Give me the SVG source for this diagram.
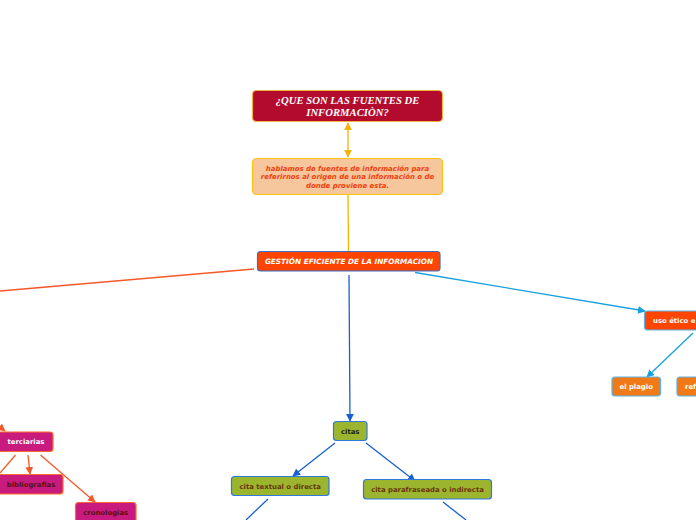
<svg xmlns="http://www.w3.org/2000/svg" width="696" height="520" viewBox="0 0 696 520">
<defs>
<style>
.t{font-family:"DejaVu Sans","Liberation Sans",sans-serif;font-weight:bold;font-size:6.9px;text-anchor:middle}
.big{font-size:7.3px}
.desc{font-size:6.95px}
.st{text-anchor:start}
.ln{fill:none;stroke-width:1.3}
</style>
<marker id="aGold" viewBox="0 0 10 10" refX="9" refY="5" markerWidth="6" markerHeight="6" orient="auto-start-reverse"><path d="M0,0L10,5L0,10z" fill="#f5b400"/></marker>
<marker id="aBlue" viewBox="0 0 10 10" refX="9" refY="5" markerWidth="6" markerHeight="6" orient="auto"><path d="M0,0L10,5L0,10z" fill="#1a5fd0"/></marker>
<marker id="aLBlue" viewBox="0 0 10 10" refX="9" refY="5" markerWidth="6" markerHeight="6" orient="auto"><path d="M0,0L10,5L0,10z" fill="#19a0e0"/></marker>
<marker id="aOr" viewBox="0 0 10 10" refX="9" refY="5" markerWidth="6" markerHeight="6" orient="auto"><path d="M0,0L10,5L0,10z" fill="#f5592a"/></marker>
</defs>
<rect width="696" height="520" fill="#ffffff"/>
<g id="connectors">
<line class="ln" x1="348" y1="123" x2="348" y2="157" stroke="#f5b400" marker-start="url(#aGold)" marker-end="url(#aGold)"/>
<line class="ln" x1="348" y1="195" x2="348.5" y2="251" stroke="#f5b400"/>
<line class="ln" x1="254" y1="269" x2="0" y2="291" stroke="#f5592a"/>
<line class="ln" x1="349" y1="275" x2="350" y2="421" stroke="#1a5fd0" marker-end="url(#aBlue)"/>
<line class="ln" x1="415" y1="272.5" x2="645" y2="311" stroke="#19a0e0" marker-end="url(#aLBlue)"/>
<line class="ln" x1="693" y1="333" x2="647" y2="377" stroke="#19a0e0" marker-end="url(#aLBlue)"/>
<line class="ln" x1="335" y1="443" x2="293" y2="476" stroke="#1a5fd0" marker-end="url(#aBlue)"/>
<line class="ln" x1="366" y1="443" x2="415" y2="481" stroke="#1a5fd0" marker-end="url(#aBlue)"/>
<line class="ln" x1="268" y1="499" x2="246" y2="520" stroke="#1a5fd0"/>
<line class="ln" x1="443" y1="502" x2="466" y2="520" stroke="#1a5fd0"/>
<line class="ln" x1="0" y1="427" x2="5" y2="431" stroke="#f5592a" marker-end="url(#aOr)"/>
<line class="ln" x1="15.5" y1="455" x2="0" y2="473" stroke="#f5592a"/>
<line class="ln" x1="28" y1="455" x2="30" y2="474" stroke="#f5592a" marker-end="url(#aOr)"/>
<line class="ln" x1="40.5" y1="455" x2="95" y2="502" stroke="#f5592a" marker-end="url(#aOr)"/>
</g>
<g id="n-title">
<rect x="252.5" y="90.5" width="190" height="31" rx="4" fill="#b30b2d" stroke="#f2b33a" stroke-width="1.2"/>
<text x="347.5" y="104" font-family="'Liberation Serif','Times New Roman',serif" font-weight="bold" font-style="italic" font-size="10.7" fill="#ffffff" text-anchor="middle">¿QUE SON LAS FUENTES DE</text>
<text x="347.5" y="115.5" font-family="'Liberation Serif','Times New Roman',serif" font-weight="bold" font-style="italic" font-size="10.7" fill="#ffffff" text-anchor="middle">INFORMACIÒN?</text>
</g>
<g id="n-desc">
<rect x="252.5" y="158.5" width="190" height="36" rx="4" fill="#f6c69d" stroke="#ffc20e" stroke-width="1.2"/>
<text class="t desc" x="347.5" y="170.5" font-style="italic" fill="#f0410f">hablamos de fuentes de información para</text>
<text class="t desc" x="347.5" y="179" font-style="italic" fill="#f0410f">referirnos al origen de una información o de</text>
<text class="t desc" x="347.5" y="187.5" font-style="italic" fill="#f0410f">donde proviene esta.</text>
</g>
<g id="n-gestion">
<rect x="257.5" y="251.5" width="182.5" height="19.5" rx="3" fill="#ff4500" stroke="#3a6fc8" stroke-width="1.2"/>
<text class="t big" x="349" y="263.8" font-style="italic" fill="#ffffff">GESTIÓN EFICIENTE DE LA INFORMACION</text>
</g>
<g id="n-uso">
<rect x="644.5" y="311" width="60" height="19" rx="3" fill="#ff4500" stroke="#5ab3ea" stroke-width="1.2"/>
<text class="t st" x="653" y="323" fill="#ffffff">uso ético e</text>
</g>
<g id="n-plagio">
<rect x="612" y="377" width="48.5" height="19" rx="3" fill="#f07a18" stroke="#5ab3ea" stroke-width="1.2"/>
<text class="t" x="636.2" y="389" fill="#ffffff">el plagio</text>
</g>
<g id="n-ref">
<rect x="677" y="377" width="30" height="19" rx="3" fill="#f07a18" stroke="#5ab3ea" stroke-width="1.2"/>
<text class="t st" x="685" y="389" fill="#ffffff">ref</text>
</g>
<g id="n-citas">
<rect x="333.5" y="421.5" width="33.5" height="19" rx="3" fill="#9bb52f" stroke="#2f78dc" stroke-width="1.2"/>
<text class="t" x="350.2" y="433.5" fill="#1c1c1c">citas</text>
</g>
<g id="n-textual">
<rect x="231.5" y="476.5" width="97.5" height="19" rx="3" fill="#9bb52f" stroke="#2f78dc" stroke-width="1.2"/>
<text class="t" x="280.2" y="488.5" fill="#6b330c">cita textual o directa</text>
</g>
<g id="n-parafraseada">
<rect x="363.5" y="479.5" width="128" height="19.5" rx="3" fill="#9bb52f" stroke="#2f78dc" stroke-width="1.2"/>
<text class="t" x="427.5" y="491.8" fill="#6b330c">cita parafraseada o indirecta</text>
</g>
<g id="n-terciarias">
<rect x="-5" y="432" width="58" height="19.5" rx="3" fill="#c91a7e" stroke="#ff6a30" stroke-width="1.2"/>
<text class="t" x="26" y="444" fill="#ffffff">terciarias</text>
</g>
<g id="n-bibliografias">
<rect x="-5" y="474.5" width="68" height="19.5" rx="3" fill="#c91a7e" stroke="#ff6a30" stroke-width="1.2"/>
<text class="t" x="31" y="486.5" fill="#5a1010">bibliografias</text>
</g>
<g id="n-cronologias">
<rect x="75.5" y="502.5" width="60.5" height="24" rx="3" fill="#c91a7e" stroke="#ff6a30" stroke-width="1.2"/>
<text class="t" x="105.7" y="514.5" fill="#5a1010">cronologias</text>
</g>
</svg>
